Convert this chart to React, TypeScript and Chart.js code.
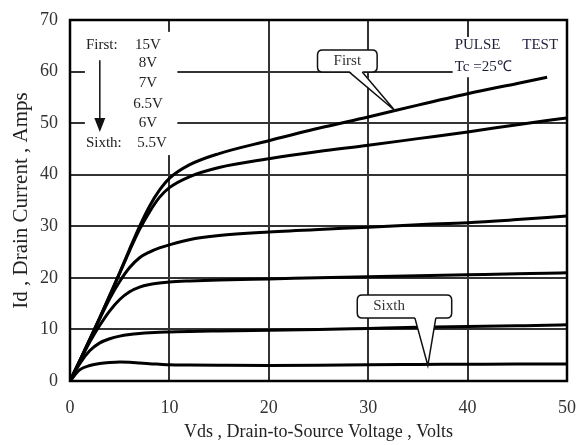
import React, { useEffect, useRef } from "react";
import { Chart, registerables } from "chart.js";

Chart.register(...registerables);

// Vds (V)
const VDS = [0, 1, 2, 3, 4, 5, 6, 7, 8, 9, 10, 12, 15, 20, 25, 30, 35, 40, 45, 48, 50];
// Id (A) per gate voltage
const ID_15V = [0, 4.0, 8.1, 12.3, 16.6, 21.0, 25.6, 30.0, 33.9, 37.0, 39.3, 41.9, 44.1, 46.6, 49.0, 51.2, 53.5, 55.7, 57.7, 58.9, null];
const ID_8V = [0, 4.0, 8.1, 12.3, 16.6, 20.9, 25.3, 29.4, 32.8, 35.6, 37.5, 39.6, 41.4, 43.1, 44.5, 45.7, 47.0, 48.3, 49.7, 50.5, 51.0];
const ID_7V = [0, 4.0, 8.0, 12.1, 16.0, 19.3, 22.0, 23.9, 25.0, 25.8, 26.4, 27.4, 28.2, 28.9, 29.4, 29.8, 30.3, 30.7, 31.3, 31.7, 32.0];
const ID_6_5V = [0, 3.9, 7.6, 10.8, 13.6, 15.8, 17.3, 18.2, 18.7, 19.0, 19.2, 19.4, 19.6, 19.8, 20.0, 20.2, 20.4, 20.6, 20.8, 20.9, 21.0];
const ID_6V = [0, 3.4, 5.9, 7.4, 8.2, 8.7, 9.0, 9.2, 9.35, 9.45, 9.5, 9.6, 9.7, 9.85, 10.0, 10.2, 10.4, 10.55, 10.7, 10.8, 10.9];
const ID_5_5V = [0, 2.2, 3.0, 3.4, 3.6, 3.7, 3.65, 3.5, 3.35, 3.25, 3.15, 3.1, 3.05, 3.0, 3.05, 3.15, 3.2, 3.25, 3.3, 3.3, 3.3];

const SERIES = [ID_15V, ID_8V, ID_7V, ID_6_5V, ID_6V, ID_5_5V];
const SERIES_NAMES = ["15V", "8V", "7V", "6.5V", "6V", "5.5V"];

const X_TITLE = "Vds , Drain-to-Source Voltage , Volts";
const Y_TITLE = "Id , Drain Current , Amps";

const SERIF = '"Liberation Serif", "Times New Roman", serif';

function roundRect(ctx: CanvasRenderingContext2D, x: number, y: number, w: number, h: number, r: number) {
  ctx.beginPath();
  ctx.moveTo(x + r, y);
  ctx.lineTo(x + w - r, y);
  ctx.quadraticCurveTo(x + w, y, x + w, y + r);
  ctx.lineTo(x + w, y + h - r);
  ctx.quadraticCurveTo(x + w, y + h, x + w - r, y + h);
  ctx.lineTo(x + r, y + h);
  ctx.quadraticCurveTo(x, y + h, x, y + h - r);
  ctx.lineTo(x, y + r);
  ctx.quadraticCurveTo(x, y, x + r, y);
  ctx.closePath();
}

function callout(
  ctx: CanvasRenderingContext2D,
  bx0: number, by0: number, bx1: number, by1: number,
  p0: number, p1: number, tx: number, ty: number,
  text: string, textX: number
) {
  ctx.save();
  ctx.lineWidth = 1.5;
  ctx.strokeStyle = "#111";
  ctx.fillStyle = "#fff";
  roundRect(ctx, bx0, by0, bx1 - bx0, by1 - by0, 5);
  ctx.fill();
  ctx.stroke();
  ctx.beginPath();
  ctx.moveTo(p0, by1 - 1);
  ctx.lineTo(tx, ty);
  ctx.lineTo(p1, by1 - 1);
  ctx.closePath();
  ctx.fill();
  ctx.beginPath();
  ctx.moveTo(p0, by1);
  ctx.lineTo(tx, ty);
  ctx.lineTo(p1, by1);
  ctx.stroke();
  ctx.fillStyle = "#333";
  ctx.font = `15px ${SERIF}`;
  ctx.textAlign = "center";
  ctx.textBaseline = "middle";
  ctx.fillText(text, textX, (by0 + by1) / 2);
  ctx.restore();
}

const annotationPlugin = {
  id: "annotationPlugin",
  beforeDatasetsDraw(chart: any) {
    const { ctx, scales } = chart;
    const X = (v: number) => scales.x.getPixelForValue(v);
    const Y = (v: number) => scales.y.getPixelForValue(v);
    ctx.save();
    ctx.fillStyle = "#fff";
    ctx.fillRect(X(1.5), Y(67.7), X(10.8) - X(1.5), Y(43.8) - Y(67.7));
    ctx.fillRect(X(38.5), Y(66.7), X(50) - X(38.5), Y(58.9) - Y(66.7));

    ctx.fillStyle = "#222";
    ctx.font = `15px ${SERIF}`;
    ctx.textBaseline = "middle";
    ctx.textAlign = "left";
    ctx.fillText("First:", X(1.6), Y(65.2));
    ctx.fillText("Sixth:", X(1.6), Y(46.1));
    ctx.textAlign = "center";
    const ys = [65.2, 61.7, 57.8, 53.7, 50.0, 46.1];
    SERIES_NAMES.forEach((n, i) => {
      ctx.fillText(n, X(i === 5 ? 8.25 : 7.85), Y(ys[i]));
    });
    // arrow
    ctx.strokeStyle = "#111";
    ctx.lineWidth = 1.5;
    ctx.beginPath();
    ctx.moveTo(X(3.0), Y(62.2));
    ctx.lineTo(X(3.0), Y(50.5));
    ctx.stroke();
    ctx.fillStyle = "#111";
    ctx.beginPath();
    ctx.moveTo(X(3.0) - 5.5, Y(51.0));
    ctx.lineTo(X(3.0) + 5.5, Y(51.0));
    ctx.lineTo(X(3.0), Y(48.3));
    ctx.closePath();
    ctx.fill();

    ctx.fillStyle = "#1e1e3c";
    ctx.textAlign = "left";
    ctx.fillText("PULSE", X(38.7), Y(65.2));
    ctx.fillText("TEST", X(45.5), Y(65.2));
    ctx.fillText("Tc =25\u2103", X(38.7), Y(60.9));
    ctx.restore();
  },
  afterDatasetsDraw(chart: any) {
    const { ctx, chartArea, scales } = chart;
    const X = (v: number) => scales.x.getPixelForValue(v);
    const Y = (v: number) => scales.y.getPixelForValue(v);
    ctx.save();
    ctx.strokeStyle = "#000";
    ctx.lineWidth = 2.5;
    ctx.strokeRect(chartArea.left, chartArea.top, chartArea.right - chartArea.left, chartArea.bottom - chartArea.top);
    ctx.restore();
    callout(ctx, X(24.9), Y(64.2), X(30.9), Y(59.9), X(28.1), X(29.4), X(32.7), Y(52.4), "First", X(27.9));
    callout(ctx, X(28.9), Y(16.7), X(38.4), Y(12.2), X(34.7), X(36.8), X(36.0), Y(3.0), "Sixth", X(32.1));
  },
};

export default function App() {
  const ref = useRef<HTMLCanvasElement | null>(null);
  useEffect(() => {
    if (!ref.current) return;
    const chart = new Chart(ref.current, {
      type: "line",
      data: {
        datasets: SERIES.map((s, i) => ({
          label: SERIES_NAMES[i],
          data: VDS.map((v, j) => ({ x: v, y: s[j] })),
          borderColor: "#000",
          borderWidth: 3,
          pointRadius: 0,
          fill: false,
          cubicInterpolationMode: "monotone" as const,
          spanGaps: false,
        })),
      },
      options: {
        animation: false,
        responsive: false,
        maintainAspectRatio: false,
        layout: { padding: { top: 20, right: 18, left: 0, bottom: 0 } },
        plugins: { legend: { display: false }, tooltip: { enabled: false } },
        scales: {
          x: {
            type: "linear",
            min: 0,
            max: 50,
            afterFit: (s: any) => { s.height = 64; s.paddingLeft = 0; s.paddingRight = 0; },
            ticks: { stepSize: 10, color: "#333", padding: 16, font: { family: SERIF, size: 18 } },
            grid: { color: "#333", lineWidth: 2, drawTicks: false },
            border: { display: false },
            title: { display: true, text: X_TITLE, color: "#222", font: { family: SERIF, size: 18 }, padding: { top: 0, bottom: 2 } },
          },
          y: {
            type: "linear",
            min: 0,
            max: 70,
            afterFit: (s: any) => { s.width = 70; s.paddingTop = 0; s.paddingBottom = 0; },
            ticks: { stepSize: 10, color: "#333", padding: 12, font: { family: SERIF, size: 18 } },
            grid: { color: "#333", lineWidth: 2, drawTicks: false },
            border: { display: false },
            title: { display: true, text: Y_TITLE, color: "#222", font: { family: SERIF, size: 21 }, padding: { top: 9, bottom: 0 } },
          },
        },
      },
      plugins: [annotationPlugin],
    });
    return () => chart.destroy();
  }, []);
  return (
    <div style={{ position: "fixed", left: 0, top: 0, width: 585, height: 445, background: "#fff" }}>
      <canvas ref={ref} width={585} height={445} />
    </div>
  );
}
